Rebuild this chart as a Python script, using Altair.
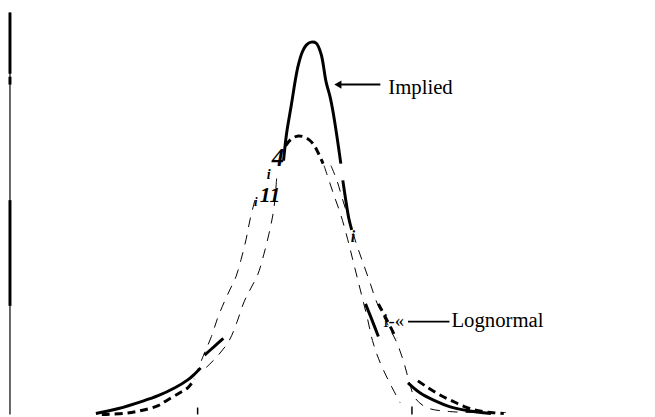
import altair as alt
import pandas as pd

# ---- data (x: strike units, y: density units) ----
implied_x = [8.7, 11.0, 13.3, 15.0, 16.7, 18.0, 18.7, 19.3,
             19.7, 20.7, 21.6,
             27.7, 28.0, 28.5, 28.9, 29.2, 29.6, 30.0, 30.5, 31.0, 31.5, 32.0, 32.4, 32.7, 33.1, 33.5,
             33.7, 34.0, 34.3, 34.6,
             36.0, 36.6, 37.3,
             40.3, 41.5, 43.0, 44.5, 46.3, 48.7]
implied_y = [0.1, 0.6, 1.3, 1.9, 2.7, 3.5, 4.1, 4.7,
             6.0, 6.9, 7.7,
             25.7, 28.4, 31.4, 33.9, 35.4, 36.7, 37.4, 37.7, 37.6, 36.5, 33.7, 32.2, 30.7, 28.2, 25.4,
             23.7, 21.7, 19.9, 18.7,
             11.2, 9.7, 7.9,
             3.2, 2.2, 1.4, 0.8, 0.4, 0.1]
implied_seg = [1]*8 + [2]*3 + [3]*15 + [4]*4 + [5]*3 + [6]*6

logn_x = [9.3, 11.5, 13.3, 15.0, 16.0, 17.2, 18.0, 18.7,
          27.9, 28.5, 29.2, 30.0, 30.7, 31.2, 31.7,
          37.3, 38.2, 39.1,
          41.3, 42.2, 43.5, 44.7, 46.0, 47.3, 48.7, 50.0]
logn_y = [0.0, 0.1, 0.4, 0.9, 1.5, 2.2, 2.7, 3.6,
          27.2, 27.9, 28.2, 28.0, 27.4, 26.5, 25.4,
          11.2, 9.5, 7.7,
          3.4, 2.8, 2.0, 1.4, 0.8, 0.4, 0.2, 0.1]
logn_seg = [1]*8 + [2]*7 + [3]*3 + [4]*8

band_a_x = [24.8, 24.3, 23.9, 23.4, 22.9, 22.3, 21.7, 21.0, 20.4, 19.6, 19.0]
band_a_y = [21.7, 19.7, 17.7, 15.7, 14.0, 12.7, 11.4, 9.7, 7.9, 6.0, 4.5]
band_b_x = [27.0, 26.7, 26.2, 25.7, 25.1, 24.4, 23.7, 23.0, 22.2, 21.0, 19.6]
band_b_y = [23.9, 20.7, 18.2, 16.2, 14.2, 12.8, 11.4, 9.4, 7.5, 5.9, 4.5]
band_c_x = [31.8, 32.3, 32.8, 33.5, 34.2, 34.7, 35.2, 35.7, 36.2, 36.7, 37.3, 38.0, 38.7, 39.5]
band_c_y = [25.2, 23.7, 22.2, 20.2, 17.7, 15.7, 13.7, 11.7, 9.7, 7.5, 5.7, 4.1, 2.7, 1.2]
band_d_x = [32.5, 33.1, 33.7, 34.4, 35.1, 35.8, 36.5, 37.2, 38.2, 39.2, 39.9, 40.4, 41.0, 42.2, 44.5, 49.0, 50.2]
band_d_y = [25.2, 23.7, 21.7, 19.5, 17.2, 15.2, 13.2, 11.2, 9.2, 7.2, 5.2, 3.4, 1.7, 0.7, 0.3, 0.2, 0.2]

# axis line pieces (x=0), thin full + thicker scanned pieces
axis_y1 = [0.0, 34.5, 33.4, 11.0]
axis_y2 = [40.7, 40.7, 34.2, 21.7]
axis_w = [1.2, 3, 3, 3]

tick_x = [19.0, 40.7]
tick_top = [0.7, 0.8]

labels = ["Implied", "Lognormal", "i-«"]
label_x = [38.3, 44.7, 37.8]
label_y = [32.4, 8.9, 8.9]
label_size = [21, 21, 19]

artifacts = ["4", "i", "11", "i", "i"]
art_x = [26.5, 26.0, 25.3, 24.7, 34.5]
art_y = [25.2, 23.8, 21.5, 21.1, 17.5]
art_size = [25, 14, 22, 13, 16]

arrow_x1 = [33.2, 40.3]
arrow_x2 = [37.5, 44.5]
arrow_y = [33.4, 9.4]

# ---- frames ----
xs = alt.Scale(domain=[0, 64.5], nice=False, zero=False)
ys = alt.Scale(domain=[0, 40.7], nice=False, zero=False)

df_imp = pd.DataFrame({"x": implied_x, "y": implied_y, "seg": implied_seg})
df_log = pd.DataFrame({"x": logn_x, "y": logn_y, "seg": logn_seg})
band_rows = []
for name, bx, by in [("a", band_a_x, band_a_y), ("b", band_b_x, band_b_y),
                     ("c", band_c_x, band_c_y), ("d", band_d_x, band_d_y)]:
    for i, (a, b) in enumerate(zip(bx, by)):
        band_rows.append({"x": a, "y": b, "line": name, "o": i})
df_band = pd.DataFrame(band_rows)
df_imp["o"] = range(len(df_imp))
df_log["o"] = range(len(df_log))

X = alt.X("x:Q", scale=xs, axis=None)
Y = alt.Y("y:Q", scale=ys, axis=None)

implied = alt.Chart(df_imp).mark_line(color="black", strokeWidth=3,
                                      interpolate="catmull-rom").encode(
    x=X, y=Y, detail="seg:N", order="o:Q")
logn = alt.Chart(df_log).mark_line(color="black", strokeWidth=3, strokeDash=[8, 5],
                                   interpolate="catmull-rom").encode(
    x=X, y=Y, detail="seg:N", order="o:Q")
bands = alt.Chart(df_band).mark_line(color="black", strokeWidth=1, strokeDash=[10, 8],
                                     interpolate="catmull-rom").encode(
    x=X, y=Y, detail="line:N", order="o:Q")

df_axis = pd.DataFrame({"x": [0.0]*4, "y1": axis_y1, "y2": axis_y2, "w": axis_w})
axis = alt.Chart(df_axis).mark_rule(color="black").encode(
    x=alt.X("x:Q", scale=xs, axis=None),
    y=alt.Y("y1:Q", scale=ys, axis=None), y2="y2:Q",
    strokeWidth=alt.StrokeWidth("w:Q", scale=None))

df_ticks = pd.DataFrame({"x": tick_x, "y1": [0.0, 0.0], "y2": tick_top})
ticks = alt.Chart(df_ticks).mark_rule(color="black", strokeWidth=1.5).encode(
    x=alt.X("x:Q", scale=xs, axis=None),
    y=alt.Y("y1:Q", scale=ys, axis=None), y2="y2:Q")

df_arrow = pd.DataFrame({"x1": arrow_x1, "x2": arrow_x2, "y": arrow_y})
arrows = alt.Chart(df_arrow).mark_rule(color="black", strokeWidth=2).encode(
    x=alt.X("x1:Q", scale=xs, axis=None), x2="x2:Q",
    y=alt.Y("y:Q", scale=ys, axis=None))
head = alt.Chart(df_arrow.iloc[[0]]).mark_point(
    shape="triangle-left", filled=True, color="black", size=70, opacity=1).encode(
    x=alt.X("x1:Q", scale=xs, axis=None), y=alt.Y("y:Q", scale=ys, axis=None))

df_lab = pd.DataFrame({"t": labels, "x": label_x, "y": label_y, "s": label_size})
texts = alt.Chart(df_lab).mark_text(
    align="left", baseline="alphabetic", font="Liberation Serif", color="black").encode(
    x=X, y=Y, text="t:N", size=alt.Size("s:Q", scale=None))

df_art = pd.DataFrame({"t": artifacts, "x": art_x, "y": art_y, "s": art_size})
arts = alt.Chart(df_art).mark_text(
    align="left", baseline="alphabetic", font="Liberation Serif", fontStyle="italic",
    fontWeight="bold", color="black").encode(
    x=X, y=Y, text="t:N", size=alt.Size("s:Q", scale=None))

chart = alt.layer(bands, logn, implied, axis, ticks, arrows, head, texts, arts).properties(
    width=645, height=407,
    autosize=alt.AutoSizeParams(type="none"),
    padding={"left": 2, "top": 2, "right": 0, "bottom": 0},
    background="white",
).configure_view(stroke=None)

chart.save("out.html", embed_options={"renderer": "svg", "actions": False})
